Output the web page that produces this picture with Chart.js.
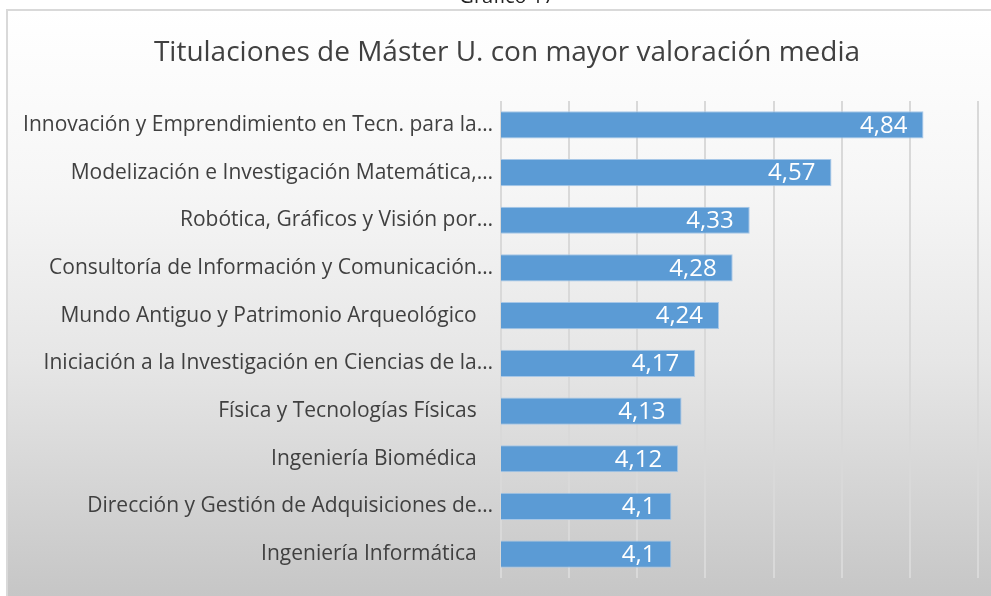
<!DOCTYPE html>
<html>
<head>
<meta charset="utf-8">
<script src="https://cdn.jsdelivr.net/npm/chart.js@4.4.1/dist/chart.umd.min.js"></script>
<style>
    html, body { margin: 0; padding: 0; width: 991px; height: 596px; overflow: hidden; background: #ffffff; }
    #frame {
        position: absolute; left: 6px; top: 9px; right: 0; bottom: 0;
        border-left: 2px solid #d9d9d9; border-top: 2px solid #d9d9d9;
        background: linear-gradient(#ffffff 0%, #f6f6f6 30%, #e6e6e6 60%, #c6c6c6 100%);
    }
    #caption {
        position: absolute; left: 0; width: 1014px; top: -14px; text-align: center; z-index: 2;
        font: 20px "Open Sans", sans-serif; line-height: 20px; color: #222;
    }
    #title {
        position: absolute; left: 0; width: 1014px; top: 33px; text-align: center; z-index: 2;
        font: 28px "Open Sans", sans-serif; line-height: 34px; color: #404040; white-space: nowrap;
    }
    #chart { position: absolute; left: 0; top: 0; }
</style>
</head>
<body>
<div id="frame"></div>
<div id="caption">Gráfico 17</div>
<div id="title"></div>
<canvas id="chart" width="991" height="596"></canvas>
<script>
const titleText = 'Titulaciones de Máster U. con mayor valoración media';

const categories = [
    'Innovación y Emprendimiento en Tecn. para la…',
    'Modelización e Investigación Matemática,…',
    'Robótica, Gráficos y Visión por…',
    'Consultoría de Información y Comunicación…',
    'Mundo Antiguo y Patrimonio Arqueológico   ',
    'Iniciación a la Investigación en Ciencias de la…',
    'Física y Tecnologías Físicas   ',
    'Ingeniería Biomédica   ',
    'Dirección y Gestión de Adquisiciones de…',
    'Ingeniería Informática   ',
];

const values = [4.84, 4.57, 4.33, 4.28, 4.24, 4.17, 4.13, 4.12, 4.1, 4.1];

const axisMin = 3.6;
const axisMax = 5.0;
const axisStep = 0.2;

document.getElementById('title').textContent = titleText;

const barLabels = {
    id: 'barLabels',
    afterDatasetsDraw(chart) {
        const { ctx } = chart;
        const meta = chart.getDatasetMeta(0);
        ctx.save();
        ctx.font = '24px "Open Sans", sans-serif';
        ctx.fillStyle = '#ffffff';
        ctx.textAlign = 'right';
        ctx.textBaseline = 'middle';
        meta.data.forEach((bar, i) => {
            const text = String(values[i]).replace('.', ',');
            ctx.fillText(text, bar.x - 16, bar.y + 1);
        });
        ctx.restore();
    },
};

new Chart(document.getElementById('chart'), {
    type: 'bar',
    data: {
        labels: categories,
        datasets: [
            {
                data: values,
                backgroundColor: '#5b9bd5',
                borderColor: '#a7c7e7',
                borderWidth: 1,
                borderSkipped: false,
                categoryPercentage: 1,
                barPercentage: 0.57,
            },
        ],
    },
    options: {
        indexAxis: 'y',
        responsive: false,
        animation: false,
        layout: { padding: { left: 0, right: 13, top: 101, bottom: 18 } },
        plugins: {
            legend: { display: false },
            tooltip: { enabled: false },
            title: { display: false },
        },
        scales: {
            x: {
                min: axisMin,
                max: axisMax,
                ticks: { display: false, stepSize: axisStep },
                grid: { color: '#d9d9d9', lineWidth: 2, drawTicks: false },
                border: { display: false },
                afterFit(scale) {
                    scale.height = 0;
                    scale.paddingLeft = 0;
                    scale.paddingRight = 0;
                },
            },
            y: {
                grid: { display: false, drawTicks: false },
                border: { display: false },
                ticks: {
                    color: '#404040',
                    padding: 8,
                    autoSkip: false,
                    font: { family: '"Open Sans", sans-serif', size: 21 },
                },
                afterFit(scale) {
                    scale.width = 501;
                    scale.paddingTop = 0;
                    scale.paddingBottom = 0;
                },
            },
        },
    },
    plugins: [barLabels],
});
</script>
</body>
</html>
